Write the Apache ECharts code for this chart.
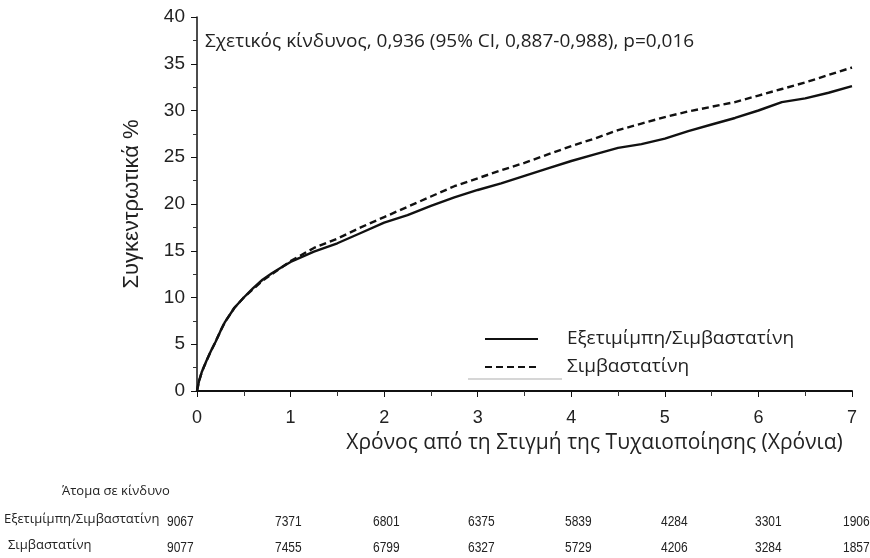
<!DOCTYPE html>
<html lang="el">
<head>
<meta charset="UTF-8" />
<title>Συγκεντρωτικά %</title>
<script src="https://cdn.jsdelivr.net/npm/echarts@6/dist/echarts.min.js"></script>
<style>
  * { margin: 0; padding: 0; }
  body { background: #fff; }
  #chart { width: 870px; height: 558px; }
</style>
</head>
<body>
<div id="chart"></div>
<script>
// time in years since randomisation
const years = [0, 0.02, 0.05, 0.1, 0.15, 0.2, 0.25, 0.3, 0.4, 0.5, 0.6, 0.7, 0.8, 0.9, 1.0,
  1.25, 1.5, 1.75, 2.0, 2.25, 2.5, 2.75, 3.0, 3.25, 3.5, 3.75, 4.0, 4.25, 4.5, 4.75,
  5.0, 5.25, 5.5, 5.75, 6.0, 6.25, 6.5, 6.75, 7.0];
// cumulative % (solid)
const ezeSimva = [0, 1.0, 2.0, 3.2, 4.3, 5.3, 6.4, 7.4, 8.9, 10.0, 11.0, 11.9, 12.6, 13.2, 13.8,
  14.9, 15.8, 16.9, 18.0, 18.8, 19.8, 20.7, 21.5, 22.2, 23.0, 23.8, 24.6, 25.3, 26.0, 26.4,
  27.0, 27.8, 28.5, 29.2, 30.0, 30.9, 31.3, 31.9, 32.6];
// cumulative % (dashed)
const simva = [0, 1.0, 2.0, 3.2, 4.3, 5.3, 6.4, 7.4, 8.9, 10.0, 10.9, 11.8, 12.5, 13.2, 13.9,
  15.3, 16.3, 17.5, 18.6, 19.7, 20.8, 21.9, 22.75, 23.6, 24.4, 25.3, 26.2, 27.0, 27.9, 28.6,
  29.3, 29.9, 30.4, 30.9, 31.6, 32.3, 33.0, 33.8, 34.6];

const seriesNames = ['Εξετιμίμπη/Σιμβαστατίνη', 'Σιμβαστατίνη'];
const atRiskEze = [9067, 7371, 6801, 6375, 5839, 4284, 3301, 1906];
const atRiskSimva = [9077, 7455, 6799, 6327, 5729, 4206, 3284, 1857];

const hrText = 'Σχετικός κίνδυνος, 0,936 (95% CI, 0,887-0,988), p=0,016';

// column positions of the at-risk table (layout only)
const colLeft = [167, 275, 373, 468, 565, 661, 755, 843];

const chart = echarts.init(document.getElementById('chart'));

const pairs = (ys) => years.map((t, i) => [t, ys[i]]);

const numFont = '15px "Liberation Sans"';
const tableText = [];
tableText.push({ type: 'text', left: 62, top: 485,
  style: { text: 'Άτομα σε κίνδυνο', font: '13px "Open Sans"', fill: '#222' } });
tableText.push({ type: 'text', left: 4, top: 513,
  style: { text: seriesNames[0], font: '13px "Open Sans"', fill: '#222' } });
tableText.push({ type: 'text', left: 8, top: 539,
  style: { text: seriesNames[1], font: '13px "Open Sans"', fill: '#222' } });
atRiskEze.forEach((v, i) => tableText.push({ type: 'text', x: colLeft[i], y: 514, scaleX: 0.8,
  style: { text: String(v), font: numFont, fill: '#222' } }));
atRiskSimva.forEach((v, i) => tableText.push({ type: 'text', x: colLeft[i], y: 540, scaleX: 0.8,
  style: { text: String(v), font: numFont, fill: '#222' } }));

const option = {
  backgroundColor: '#fff',
  animation: false,
  grid: { left: 197, right: 18, top: 17, bottom: 167 },
  legend: {
    orient: 'vertical',
    left: 479,
    top: 324,
    itemWidth: 53,
    itemHeight: 14,
    itemGap: 8,
    itemStyle: { opacity: 0 },
    textStyle: { fontFamily: 'Open Sans', fontSize: 19, lineHeight: 20, color: '#222', padding: [0, 0, 0, 24] },
    data: seriesNames
  },
  xAxis: {
    type: 'value',
    min: 0, max: 7, interval: 1,
    name: 'Χρόνος από τη Στιγμή της Τυχαιοποίησης (Χρόνια)',
    nameLocation: 'middle',
    nameGap: 42,
    nameTextStyle: { fontFamily: 'Open Sans', fontSize: 21, color: '#222', padding: [0, 0, 0, 140] },
    axisLine: { onZero: false, lineStyle: { color: '#111', width: 2 } },
    axisTick: { length: 6, lineStyle: { color: '#111', width: 1 } },
    minorTick: { show: true, splitNumber: 2, length: 5, lineStyle: { color: '#333' } },
    axisLabel: { fontFamily: 'Liberation Sans', fontSize: 18, color: '#222', margin: 18 },
    splitLine: { show: false }
  },
  yAxis: {
    type: 'value',
    min: 0, max: 40, interval: 5,
    name: 'Συγκεντρωτικά %',
    nameLocation: 'middle',
    nameGap: 54,
    nameTextStyle: { fontFamily: 'Liberation Sans', fontSize: 22, color: '#222' },
    axisLine: { show: true, lineStyle: { color: '#111', width: 1.5 } },
    axisTick: { show: true, length: 6, lineStyle: { color: '#111' } },
    minorTick: { show: true, splitNumber: 2, length: 4, lineStyle: { color: '#333' } },
    axisLabel: { fontFamily: 'Liberation Sans', fontSize: 19, color: '#222', margin: 12 },
    splitLine: { show: false }
  },
  series: [
    {
      name: seriesNames[0], type: 'line', symbol: 'none', smooth: false,
      data: pairs(ezeSimva),
      lineStyle: { color: '#111', width: 2.4 },
      itemStyle: { color: '#111' }, z: 3
    },
    {
      name: seriesNames[1], type: 'line', symbol: 'none', smooth: false,
      data: pairs(simva),
      lineStyle: { color: '#111', width: 2.4, type: [7, 4] },
      itemStyle: { color: '#111' }, z: 2
    }
  ],
  graphic: [
    { type: 'text', left: 205, top: 32,
      style: { text: hrText, font: '19px "Open Sans"', fill: '#222' } },
    { type: 'line', shape: { x1: 468, y1: 379, x2: 562, y2: 379 },
      style: { stroke: '#c8c8c8', lineWidth: 1.5 } }
  ].concat(tableText)
};

chart.setOption(option);
</script>
</body>
</html>
